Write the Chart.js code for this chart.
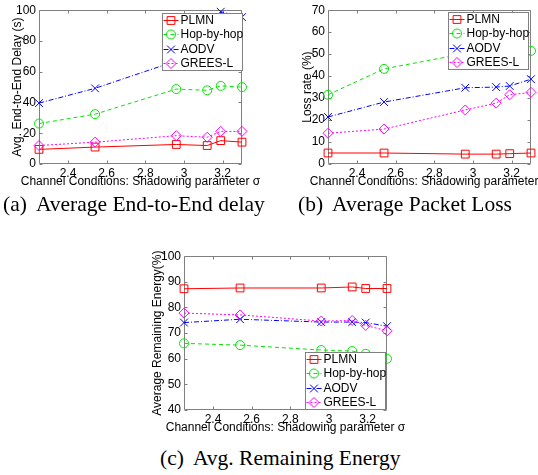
<!DOCTYPE html>
<html>
<head>
<meta charset="utf-8">
<script src="https://cdn.jsdelivr.net/npm/chart.js@4.4.1/dist/chart.umd.min.js"></script>
<style>
    body { margin: 0; background: #fff; }
    #fig { position: relative; width: 538px; height: 475px; overflow: hidden; background: #fff; }
    #fig canvas { position: absolute; }
    .cap { position: absolute; font-family: "Liberation Serif", "Times New Roman", serif; font-size: 21.5px; line-height: 22px; color: #000; white-space: nowrap; }
    .cap span { margin-right: 9px; }
</style>
</head>
<body>
<div id="fig">
    <canvas id="chart-delay" width="269" height="195" style="left:0px; top:0px;"></canvas>
    <canvas id="chart-loss" width="249" height="195" style="left:289px; top:0px;"></canvas>
    <canvas id="chart-energy" width="269" height="195" style="left:145px; top:246px;"></canvas>
    <div class="cap" style="left:3px; top:193px;"><span>(a)</span>Average End-to-End delay</div>
    <div class="cap" style="left:298px; top:193px;"><span>(b)</span>Average Packet Loss</div>
    <div class="cap" style="left:160px; top:447px;"><span>(c)</span>Avg. Remaining Energy</div>
</div>
<script>
// ---- données ----
const sigmaVals = [2.25, 2.54, 2.96, 3.12, 3.19, 3.30];
const xTicks = [2.4, 2.6, 2.8, 3, 3.2];
const seriesNames = ['PLMN', 'Hop-by-hop', 'AODV', 'GREES-L'];

// (a) délai moyen de bout en bout (s)
const delayPLMN = [9.5, 11.0, 12.7, 12.0, 15.2, 14.2];
const delayHop = [26.3, 32.4, 48.7, 47.9, 50.8, 50.0];
const delayAODV = [39.6, 49.2, 67.0, 82.0, 99.0, 95.5];
const delayGrees = [12.0, 14.2, 18.4, 17.4, 21.2, 21.2];
const delayTicks = [0, 20, 40, 60, 80, 100];

// (b) taux de perte (%)
const lossPLMN = [5.0, 5.0, 4.5, 4.5, 4.7, 5.0];
const lossHop = [31.5, 43.3, 50.3, 50.8, 51.2, 51.5];
const lossAODV = [21.4, 28.2, 34.7, 35.0, 35.5, 38.6];
const lossGrees = [14.0, 15.9, 24.6, 27.7, 31.5, 32.6];
const lossTicks = [0, 10, 20, 30, 40, 50, 60, 70];

// (c) énergie restante moyenne (%)
const energyPLMN = [87.3, 87.6, 87.6, 88.0, 87.4, 87.4];
const energyHop = [66.0, 65.3, 63.4, 63.0, 61.9, 60.0];
const energyAODV = [74.1, 75.4, 74.3, 74.3, 74.1, 72.7];
const energyGrees = [77.8, 77.1, 74.7, 74.9, 73.0, 70.9];
const energyTicks = [40, 50, 60, 70, 80, 90, 100];

const seriesStyle = [
    { color: '#ff0000', dash: [], point: 'rect', radius: 5.5 },
    { color: '#00e600', dash: [4, 3], point: 'circle', radius: 4.5 },
    { color: '#0000ff', dash: [5, 2, 1, 2], point: 'crossRot', radius: 5.5 },
    { color: '#ff00ff', dash: [2, 2], point: 'rectRot', radius: 5 }
];

const fontFamily = '"Liberation Sans", Arial, sans-serif';
const axisFont = { family: fontFamily, size: 12 };
const legendFontSize = 12;
const frameColor = '#808080';

// cadre + graduations vers l'intérieur + titre de l'axe x (style Matlab)
const axesBox = {
    id: 'axesBox',
    beforeDatasetsDraw(chart, args, opts) {
        const { ctx, chartArea: a, scales } = chart;
        const L = Math.round(a.left) + 0.5, R = Math.round(a.right) - 0.5;
        const T = Math.round(a.top) + 0.5, B = Math.round(a.bottom) - 0.5;
        ctx.save();
        ctx.strokeStyle = frameColor;
        ctx.lineWidth = 1;
        ctx.beginPath();
        ctx.rect(L, T, R - L, B - T);
        scales.x.ticks.forEach(t => {
            const px = Math.round(scales.x.getPixelForValue(t.value)) + 0.5;
            ctx.moveTo(px, B); ctx.lineTo(px, B - 3);
            ctx.moveTo(px, T); ctx.lineTo(px, T + 3);
        });
        scales.y.ticks.forEach(t => {
            const py = Math.round(scales.y.getPixelForValue(t.value)) + 0.5;
            ctx.moveTo(L, py); ctx.lineTo(L + 3, py);
            ctx.moveTo(R, py); ctx.lineTo(R - 3, py);
        });
        ctx.stroke();
        ctx.fillStyle = '#000';
        ctx.font = `${axisFont.size}px ${fontFamily}`;
        ctx.textAlign = 'center';
        ctx.textBaseline = 'middle';
        ctx.fillText(opts.xTitle, (a.left + a.right) / 2, a.bottom + 18);
        ctx.restore();
    }
};

// légende encadrée dans la zone du graphique
const boxLegend = {
    id: 'boxLegend',
    afterDraw(chart, args, opts) {
        const { ctx, chartArea: a } = chart;
        const w = 80, h = 57;
        const x0 = Math.round(a.right - opts.right - w) + 0.5;
        const y0 = opts.corner === 'top'
            ? Math.round(a.top + opts.gap) + 0.5
            : Math.round(a.bottom - opts.gap - h) - 0.5;
        ctx.save();
        ctx.fillStyle = '#fff';
        ctx.fillRect(x0, y0, w, h);
        ctx.strokeStyle = frameColor;
        ctx.lineWidth = 1;
        ctx.strokeRect(x0, y0, w, h);
        ctx.font = `${legendFontSize}px ${fontFamily}`;
        ctx.textBaseline = 'middle';
        ctx.textAlign = 'left';
        chart.data.datasets.forEach((ds, i) => {
            const cy = Math.round(y0 + 6.5 + i * 14.3) + 0.5;
            ctx.strokeStyle = ds.borderColor;
            ctx.lineWidth = 1;
            ctx.setLineDash(ds.borderDash || []);
            ctx.beginPath();
            ctx.moveTo(x0 + 1, cy);
            ctx.lineTo(x0 + 16, cy);
            ctx.stroke();
            ctx.setLineDash([]);
            ctx.fillStyle = 'rgba(0,0,0,0)';
            Chart.helpers.drawPoint(ctx, { pointStyle: ds.pointStyle, radius: ds.pointRadius, rotation: 0, borderWidth: 1 }, x0 + 8.5, cy);
            ctx.fillStyle = '#000';
            ctx.fillText(ds.label, x0 + 18, cy + 0.5);
        });
        ctx.restore();
    }
};

function makeSeries(values) {
    return seriesNames.map((name, i) => ({
        label: name,
        data: sigmaVals.map((x, j) => ({ x: x, y: values[i][j] })),
        borderColor: seriesStyle[i].color,
        backgroundColor: 'rgba(0,0,0,0)',
        borderWidth: 1,
        borderDash: seriesStyle[i].dash,
        pointStyle: seriesStyle[i].point,
        pointRadius: seriesStyle[i].radius,
        pointBorderWidth: 1,
        pointBorderColor: seriesStyle[i].color,
        pointBackgroundColor: 'rgba(0,0,0,0)',
        tension: 0,
        fill: false,
        clip: false,
        order: seriesNames.length - i
    }));
}

function makeChart(canvasId, values, yTicks, yTitle, yTitlePad, padRight, legendOpts) {
    const ctx = document.getElementById(canvasId).getContext('2d');
    return new Chart(ctx, {
        type: 'line',
        data: { datasets: makeSeries(values) },
        plugins: [axesBox, boxLegend],
        options: {
            responsive: false,
            animation: false,
            events: [],
            layout: { padding: { top: 7, right: padRight, bottom: 0, left: 0 } },
            plugins: {
                legend: { display: false },
                tooltip: { enabled: false },
                axesBox: { xTitle: 'Channel Conditions: Shadowing parameter σ' },
                boxLegend: legendOpts
            },
            scales: {
                x: {
                    type: 'linear',
                    min: sigmaVals[0],
                    max: sigmaVals[sigmaVals.length - 1],
                    afterBuildTicks: s => { s.ticks = xTicks.map(v => ({ value: v })); },
                    afterFit: s => { s.height = 31; },
                    grid: { display: false, drawTicks: false },
                    border: { display: false },
                    ticks: { padding: 2, font: axisFont, color: '#000', maxRotation: 0, callback: v => String(+v.toFixed(2)) }
                },
                y: {
                    type: 'linear',
                    min: yTicks[0],
                    max: yTicks[yTicks.length - 1],
                    afterBuildTicks: s => { s.ticks = yTicks.map(v => ({ value: v })); },
                    afterFit: s => { s.width = 39; },
                    grid: { display: false, drawTicks: false },
                    border: { display: false },
                    ticks: { padding: 3, font: axisFont, color: '#000' },
                    title: { display: true, text: yTitle, font: axisFont, color: '#000', padding: { top: yTitlePad, bottom: 0 } }
                }
            }
        }
    });
}

makeChart('chart-delay', [delayPLMN, delayHop, delayAODV, delayGrees], delayTicks,
    'Avg. End-to-End Delay (s)', 10, 27, { corner: 'top', gap: 3, right: 0 });
makeChart('chart-loss', [lossPLMN, lossHop, lossAODV, lossGrees], lossTicks,
    'Loss rate (%)', 11, 7, { corner: 'top', gap: 2, right: 3 });
makeChart('chart-energy', [energyPLMN, energyHop, energyAODV, energyGrees], energyTicks,
    'Average Remaining Energy(%)', 5, 27, { corner: 'bottom', gap: 0, right: 2 });
</script>
</body>
</html>
